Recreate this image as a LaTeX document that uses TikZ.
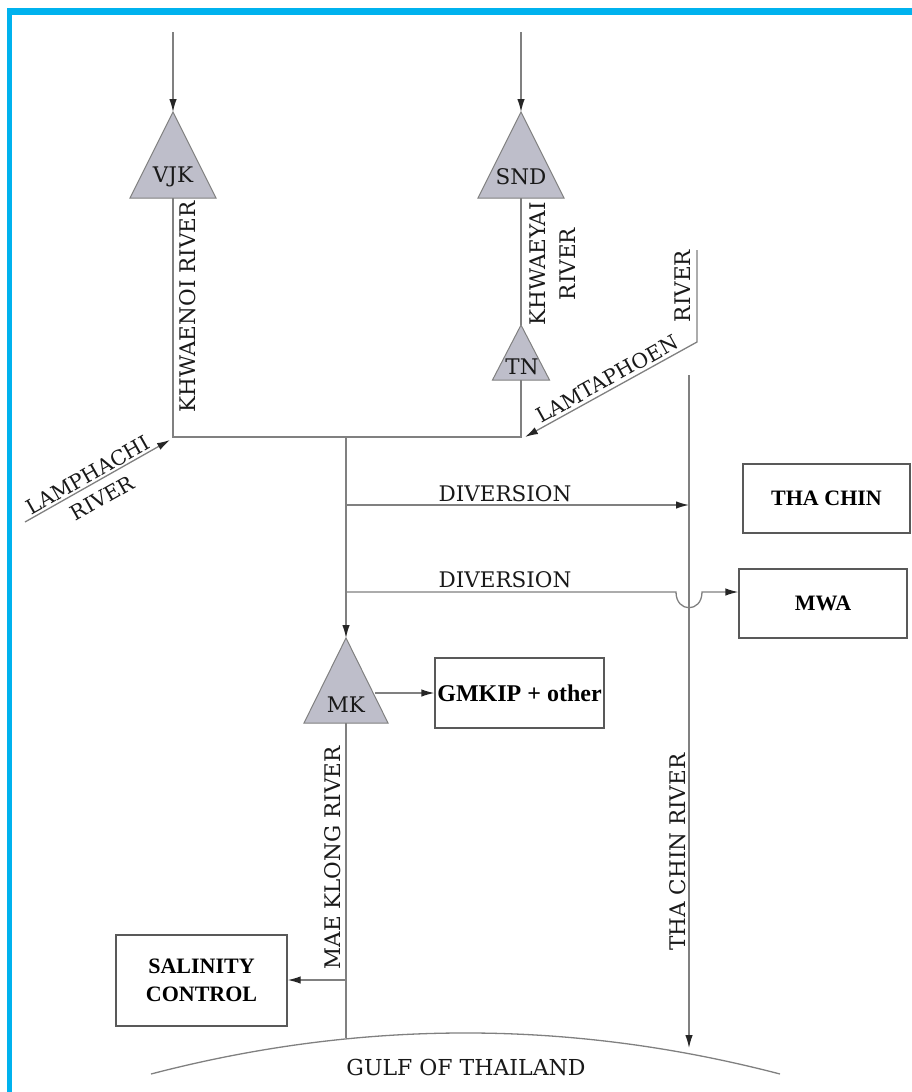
\documentclass[tikz,border=0pt]{standalone}
\usepackage{fontspec}
\newfontfamily\boxfont{Liberation Serif}
\newfontfamily\lblfont{DejaVu Serif}
\usetikzlibrary{arrows.meta}
\definecolor{frameC}{RGB}{0,178,238}
\definecolor{triFill}{RGB}{190,190,202}
\definecolor{lineC}{RGB}{128,128,128}
\begin{document}
\begin{tikzpicture}[x=1pt,y=-1pt,
  river/.style={draw=lineC, line width=1.3pt},
  flow/.style={river, -{Latex[length=13pt,width=7.5pt,color=black!85]}},
  tri/.style={fill=triFill, draw=lineC, line width=1pt},
  lbl/.style={font=\lblfont\fontsize{21.5}{25}\selectfont, inner sep=0pt, text=black!90},
  dlbl/.style={lbl, font=\lblfont\fontsize{20.5}{24}\selectfont},
  bx/.style={draw=black!65, line width=1.3pt, fill=white, inner sep=0pt,
    font=\boxfont\bfseries\fontsize{22}{28}\selectfont, align=center}
]
\useasboundingbox (0,0) rectangle (912,1092);
% frame
\fill[frameC] (7,8) rectangle (912,15);
\fill[frameC] (7,8) rectangle (12,1092);

% coordinates
\coordinate (vjkIn) at (173,32);
\coordinate (vjkA) at (173,112);
\coordinate (vjkB) at (173,198);
\coordinate (sndIn) at (521,32);
\coordinate (sndA) at (521,112);
\coordinate (sndB) at (521,198);
\coordinate (tnA) at (521,325);
\coordinate (tnB) at (521,380);
\coordinate (jL) at (173,437);
\coordinate (jR) at (521,437);
\coordinate (jC) at (346,437);
\coordinate (mkA) at (346,638);
\coordinate (mkB) at (346,723);
\coordinate (mkR) at (375,693);
\coordinate (d1s) at (346,505);
\coordinate (d1e) at (689,505);
\coordinate (d2s) at (346,592);
\coordinate (h1) at (676,592);
\coordinate (h2) at (702,592);
\coordinate (salS) at (346,980);
\coordinate (mkEnd) at (346,1038);
\coordinate (tcTop) at (689,375);
\coordinate (tcEnd) at (689,1048);
\coordinate (lpS) at (25,522);
\coordinate (lpE) at (170,440);
\coordinate (ltTop) at (697,250);
\coordinate (ltK) at (697,342);
\coordinate (ltE) at (525,437);
\coordinate (gA) at (151,1074);
\coordinate (gB) at (780,1074);

% triangles
\path[tri] (vjkA) -- ++(43,86) -- ++(-86,0) -- cycle;
\path[tri] (sndA) -- ++(43,86) -- ++(-86,0) -- cycle;
\path[tri] (tnA) -- ++(28.5,55) -- ++(-57,0) -- cycle;
\path[tri] (mkA) -- ++(42,85) -- ++(-84,0) -- cycle;
\node[lbl] (vjk) at (173,177) {VJK};
\node[lbl] (snd) at (521,177) {SND};
\node[lbl] (tn) at (522,367) {TN};
\node[lbl] (mk) at (346,705) {MK};

% boxes
\node[bx, minimum width=167pt, minimum height=69pt] (thachin) at (826.5,498.5) {THA CHIN};
\node[bx, minimum width=168pt, minimum height=69pt] (mwa) at (823,603.5) {MWA};
\node[bx, minimum width=169pt, minimum height=70pt, font=\boxfont\bfseries\fontsize{24}{28}\selectfont] (gmkip) at (519.5,693) {GMKIP + other};
\node[bx, minimum width=171pt, minimum height=91pt] (salinity) at (201.5,980.5) {SALINITY\\CONTROL};
\coordinate (mwaIn) at (h2 -| mwa.west);
\coordinate (salIn) at (salS -| salinity.east);

% rivers
\draw[flow] (vjkIn) -- (vjkA);
\draw[flow] (sndIn) -- (sndA);
\draw[river] (sndB) -- (tnA);
\draw[river] (vjkB) -- (jL) -- (jR) -- (tnB);
\draw[flow] (jC) -- (mkA);
\draw[flow] (d1s) -- (d1e);
\draw[flow] (d2s) -- (h1) .. controls (676,613) and (702,613) .. (h2) -- (mwaIn);
\draw[flow] (mkR) -- (gmkip.west);
\draw[river] (mkB) -- (mkEnd);
\draw[flow] (salS) -- (salIn);
\draw[flow] (tcTop) -- (tcEnd);
\draw[flow] (lpS) -- (lpE);
\draw[flow] (ltTop) -- (ltK) -- (ltE);
\draw[river] (gA) .. controls (360.7,1019.3) and (570.3,1019.3) .. (gB);

% labels
\node[lbl, rotate=90] (kwn) at (188,307) {KHWAENOI RIVER};
\node[lbl, rotate=90] (kwy) at (538,264) {KHWAEYAI};
\node[lbl, rotate=90] (kwyr) at (568,264) {RIVER};
\node[dlbl, rotate=29] (ltp) at (607,379) {LAMTAPHOEN};
\node[lbl, rotate=90] (ltpr) at (683,286) {RIVER};
\node[dlbl, rotate=29.5] (lpc) at (88,475) {LAMPHACHI};
\node[dlbl, rotate=29.5] (lpcr) at (102,498) {RIVER};
\node[lbl] (div1) at (505,494) {DIVERSION};
\node[lbl] (div2) at (505,580) {DIVERSION};
\node[lbl, rotate=90] (mkr) at (333,858) {MAE KLONG RIVER};
\node[lbl, rotate=90] (tcr) at (678,852) {THA CHIN RIVER};
\node[lbl, font=\lblfont\fontsize{22}{26}\selectfont] (gulf) at (466,1067) {GULF OF THAILAND};
\end{tikzpicture}
\end{document}
